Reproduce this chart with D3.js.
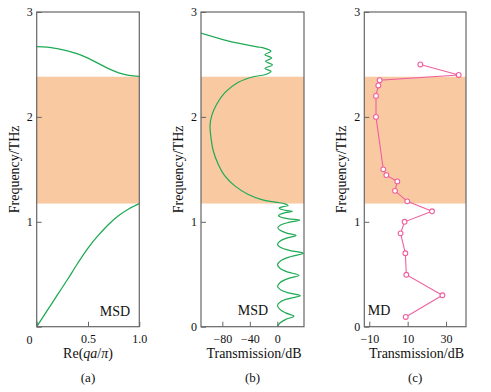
<!DOCTYPE html>
<html>
<head>
<meta charset="utf-8">
<script src="https://cdn.jsdelivr.net/npm/d3@7"></script>
<style>
  body { margin: 0; background: #fff; }
  svg text { font-family: "Liberation Serif", "Times New Roman", serif; fill: #111; }
</style>
</head>
<body>
<div id="chart"></div>
<script>
// shared frequency band gap (THz)
var gapLow = 1.174;
var gapHigh = 2.383;
var freqTicks = [0, 1, 2, 3];

// (a) dispersion, Re(qa/pi) vs frequency
var qLower = [0, 0.1, 0.2, 0.3, 0.4, 0.5, 0.6, 0.7, 0.8, 0.9, 1.0];
var fLower = [0, 0.15, 0.30, 0.45, 0.605, 0.75, 0.87, 0.975, 1.06, 1.125, 1.174];
var qUpper = [0, 0.1, 0.2, 0.3, 0.4, 0.5, 0.6, 0.7, 0.8, 0.9, 1.0];
var fUpper = [2.67, 2.665, 2.65, 2.63, 2.60, 2.56, 2.51, 2.46, 2.42, 2.395, 2.387];
var qTicks = [0, 0.5, 1.0];
var qTickLabels = ['', '0.5', '1.0'];

// (b) MSD transmission (dB) vs frequency
var msdFreq = [0, 0.035, 0.07, 0.10, 0.1315, 0.168, 0.205, 0.2365, 0.268, 0.295,
    0.322, 0.3535, 0.385, 0.422, 0.4585, 0.49, 0.52, 0.555, 0.59, 0.6285, 0.667, 0.70,
    0.7255, 0.755, 0.785, 0.815, 0.8445, 0.87, 0.8925, 0.919, 0.945, 0.9695, 0.994, 1.015,
    1.028, 1.043, 1.058, 1.0727, 1.087, 1.10, 1.109, 1.1195, 1.13, 1.138, 1.146, 1.153,
    1.171, 1.187, 1.212, 1.26, 1.34, 1.435, 1.547, 1.675, 1.80, 1.914,
    2.01, 2.12, 2.233, 2.33, 2.383,
    2.402, 2.434, 2.463, 2.495, 2.530, 2.562, 2.593, 2.626, 2.658,
    2.664, 2.686, 2.727, 2.798];
var msdTrans = [0, 3.8, 12.3, 24.1, 12, 3.3, 0.3, 4.4, 16.6, 33.5,
    16.6, 4.4, 0.3, 4.2, 15.6, 31.4, 15.6, 4.2, 0.3, 4.9, 18.7, 37.7,
    18.7, 4.9, 0.3, 3.7, 13.6, 27.3, 13.8, 4.1, 0.8, 4.7, 16.4, 32.5,
    16.8, 5.6, 1.6, 4.4, 11.8, 22, 12.3, 5.3, 2.6, 4.6, 9.4, 15.8,
    11.2, -3.4, -22.8, -42.2, -61.4, -76, -85.8, -93.1, -96.4, -97.9,
    -95.5, -88.2, -76, -56.7, -34.9,
    -18.1, -9.2, -18.1, -7.2, -17.0, -8.2, -18.1, -9.2, -20.4,
    -25.2, -44.5, -73.6, -111];
var msdTicks = [-80, -40, 0];

// (c) MD measured transmission
var mdFreq = [2.5, 2.4, 2.35, 2.3, 2.2, 2.0, 1.5, 1.445, 1.385, 1.295, 1.195, 1.1, 1.0, 0.89, 0.7, 0.495, 0.3, 0.093];
var mdTrans = [16.6, 36.6, -4.6, -5.3, -6.5, -6.5, -2.7, -1.1, 4.6, 3.4, 9.8, 22.7, 8.4, 6.3, 8.8, 9.3, 28.1, 9.0];
var mdTicks = [-10, 10, 30];

var width = 491, height = 392;
var top_y = 12, bottom_y = 326.7;
var green = '#1faa55', pink = '#ef5f9f', band = '#f9c9a1', frame = '#666';

var svg = d3.select('#chart').append('svg')
    .attr('width', width)
    .attr('height', height);

var y = d3.scaleLinear().domain([0, 3]).range([bottom_y, top_y]);

function panel(id, left, right, xDomain, opts) {
    var x = d3.scaleLinear().domain(xDomain).range([left, right]);
    var g = svg.append('g').attr('id', id);

    g.append('clipPath').attr('id', 'clip-' + id)
        .append('rect')
        .attr('x', left).attr('y', top_y)
        .attr('width', right - left).attr('height', bottom_y - top_y);

    g.append('rect')
        .attr('x', left)
        .attr('y', y(gapHigh))
        .attr('width', right - left)
        .attr('height', y(gapLow) - y(gapHigh))
        .attr('fill', band);

    var plot = g.append('g').attr('clip-path', 'url(#clip-' + id + ')');

    // y axis, ticks pointing inward
    var yAxis = g.append('g')
        .attr('transform', 'translate(' + left + ',0)')
        .call(d3.axisLeft(y).tickValues(freqTicks).tickSize(-5).tickPadding(4)
            .tickFormat(function(d){ return (opts.hideZero && d === 0) ? '' : d; }));
    yAxis.select('.domain').remove();
    yAxis.selectAll('line').attr('stroke', frame);
    yAxis.selectAll('text').attr('font-size', 12).attr('fill', '#111')
        .style('font-family', '"Liberation Serif", serif');

    var xAxis = g.append('g')
        .attr('transform', 'translate(0,' + bottom_y + ')')
        .call(d3.axisBottom(x).tickValues(opts.xTicks).tickSize(-5).tickPadding(8)
            .tickFormat(function(d, i){
                return opts.xLabels ? opts.xLabels[i] : d3.format('')(d).replace('-', '\u2212');
            }));
    xAxis.select('.domain').remove();
    xAxis.selectAll('line').attr('stroke', frame);
    xAxis.selectAll('text').attr('font-size', 12).attr('fill', '#111')
        .style('font-family', '"Liberation Serif", serif');

    g.append('rect')
        .attr('x', left).attr('y', top_y)
        .attr('width', right - left).attr('height', bottom_y - top_y)
        .attr('fill', 'none')
        .attr('stroke', frame)
        .attr('stroke-width', 1.2);

    g.append('text')
        .attr('transform', 'translate(' + (left - 23) + ',' + ((top_y + bottom_y) / 2) + ') rotate(-90)')
        .attr('text-anchor', 'middle')
        .attr('dy', '0.35em')
        .attr('font-size', 14)
        .text('Frequency/THz');

    g.append('text')
        .attr('x', (left + right) / 2)
        .attr('y', 377)
        .attr('text-anchor', 'middle')
        .attr('dy', '0.35em')
        .attr('font-size', 13)
        .text(opts.tag);

    return { x: x, g: g, plot: plot };
}

// (a)
var pa = panel('pa', 36.7, 139.3, [0, 1], { xTicks: qTicks, xLabels: qTickLabels, hideZero: true, tag: '(a)' });
var lineA = d3.line()
    .x(function(d){ return pa.x(d[0]); })
    .y(function(d){ return y(d[1]); })
    .curve(d3.curveCatmullRom.alpha(0.5));
pa.plot.append('path')
    .attr('d', lineA(d3.zip(qLower, fLower)))
    .attr('fill', 'none').attr('stroke', green).attr('stroke-width', 1.3);
pa.plot.append('path')
    .attr('d', lineA(d3.zip(qUpper, fUpper)))
    .attr('fill', 'none').attr('stroke', green).attr('stroke-width', 1.3);
pa.g.append('text')
    .attr('x', 29.5).attr('y', 343.5)
    .attr('text-anchor', 'middle')
    .attr('font-size', 12)
    .text('0');
var reLabel = pa.g.append('text')
    .attr('x', 88).attr('y', 353)
    .attr('text-anchor', 'middle')
    .attr('dy', '0.35em')
    .attr('font-size', 14);
reLabel.append('tspan').text('Re(');
reLabel.append('tspan').attr('font-style', 'italic').text('qa');
reLabel.append('tspan').text('/');
reLabel.append('tspan').attr('font-style', 'italic').text('\u03c0');
reLabel.append('tspan').text(')');
pa.g.append('text')
    .attr('x', 115).attr('y', 316)
    .attr('text-anchor', 'middle')
    .attr('font-size', 14)
    .text('MSD');

// (b)
var pb = panel('pb', 201, 304, [-111, 38.8], { xTicks: msdTicks, tag: '(b)' });
var lineB = d3.line()
    .x(function(d){ return pb.x(d[0]); })
    .y(function(d){ return y(d[1]); })
    .curve(d3.curveCatmullRom.alpha(0.5));
pb.plot.append('path')
    .attr('d', lineB(d3.zip(msdTrans, msdFreq)))
    .attr('fill', 'none').attr('stroke', green).attr('stroke-width', 1.2);
pb.g.append('text')
    .attr('x', 253).attr('y', 315)
    .attr('text-anchor', 'middle')
    .attr('font-size', 14)
    .text('MSD');
pb.g.append('text')
    .attr('x', 254).attr('y', 353)
    .attr('text-anchor', 'middle')
    .attr('dy', '0.35em')
    .attr('font-size', 14)
    .text('Transmission/dB');

// (c)
var pc = panel('pc', 364.3, 466, [-12.6, 40.4], { xTicks: mdTicks, tag: '(c)' });
var lineC = d3.line()
    .x(function(d){ return pc.x(d[0]); })
    .y(function(d){ return y(d[1]); });
var mdPts = d3.zip(mdTrans, mdFreq);
pc.plot.append('path')
    .attr('d', lineC(mdPts))
    .attr('fill', 'none').attr('stroke', pink).attr('stroke-width', 1.1);
pc.plot.selectAll('circle')
    .data(mdPts)
    .enter()
    .append('circle')
    .attr('cx', function(d){ return pc.x(d[0]); })
    .attr('cy', function(d){ return y(d[1]); })
    .attr('r', 2.4)
    .attr('fill', '#fff')
    .attr('stroke', pink)
    .attr('stroke-width', 1.1);
pc.g.append('text')
    .attr('x', 379).attr('y', 315)
    .attr('text-anchor', 'middle')
    .attr('font-size', 14)
    .text('MD');
pc.g.append('text')
    .attr('x', 416.5).attr('y', 353)
    .attr('text-anchor', 'middle')
    .attr('dy', '0.35em')
    .attr('font-size', 14)
    .text('Transmission/dB');
</script>
</body>
</html>
